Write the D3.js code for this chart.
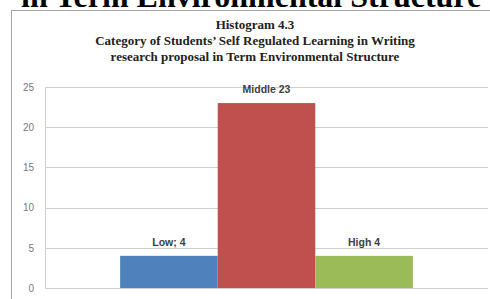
<!DOCTYPE html>
<html>
<head>
<meta charset="utf-8">
<script src="https://cdn.jsdelivr.net/npm/d3@7"></script>
<style>
    body { margin: 0; background: #fff; }
    svg { display: block; }
</style>
</head>
<body>
<div id="chart"></div>
<script>
// Chart data
const seriesNames = ['Low', 'Middle', 'High'];
const seriesValues = [4, 23, 4];
const dataLabels = ['Low; 4', 'Middle 23', 'High 4'];
const seriesColors = ['#4F81BD', '#C0504D', '#9BBB59'];
const yTicks = [0, 5, 10, 15, 20, 25];
const titleLines = [
    'Histogram 4.3',
    'Category of Students\u2019 Self Regulated Learning in Writing',
    'research proposal in Term Environmental Structure'
];
const pageHeading = 'in Term Environmental Structure';

const width = 490;
const height = 299;

const svg = d3.select('#chart')
    .append('svg')
    .attr('width', width)
    .attr('height', height);

// Page heading, cut off by the top edge
svg.append('text')
    .attr('x', 21)
    .attr('y', 7)
    .attr('font-family', 'Liberation Serif')
    .attr('font-weight', 'bold')
    .attr('font-size', 32)
    .attr('fill', '#000')
    .text(pageHeading);

// Chart frame
svg.append('rect')
    .attr('x', 11.5)
    .attr('y', 10.5)
    .attr('width', 500)
    .attr('height', 300)
    .attr('fill', '#fff')
    .attr('stroke', '#a6a6a6')
    .attr('stroke-width', 1);

// Title
svg.append('g')
    .selectAll('text')
    .data(titleLines)
    .enter()
    .append('text')
    .attr('x', 255)
    .attr('y', (d, i) => 29 + i * 16)
    .attr('text-anchor', 'middle')
    .attr('font-family', 'Liberation Serif')
    .attr('font-weight', 'bold')
    .attr('font-size', 13)
    .attr('fill', '#222')
    .text(d => d);

// Scales
const plotLeft = 45, plotRight = 488, plotTop = 87, plotBottom = 288;

const y = d3.scaleLinear()
    .domain([0, 25])
    .range([plotBottom, plotTop]);

const x = d3.scaleBand()
    .domain(seriesNames)
    .range([plotLeft, plotRight])
    .paddingInner(0)
    .paddingOuter(0.77);

// Gridlines
svg.append('g')
    .selectAll('line')
    .data(yTicks)
    .enter()
    .append('line')
    .attr('x1', plotLeft)
    .attr('x2', plotRight)
    .attr('y1', d => Math.round(y(d)) + 0.5)
    .attr('y2', d => Math.round(y(d)) + 0.5)
    .attr('stroke', '#d0d0d0')
    .attr('stroke-width', 1);

// Vertical axis line
svg.append('line')
    .attr('x1', plotLeft + 0.5)
    .attr('x2', plotLeft + 0.5)
    .attr('y1', plotTop)
    .attr('y2', plotBottom + 1)
    .attr('stroke', '#d0d0d0');

// Y axis labels
const yAxis = d3.axisLeft(y)
    .tickValues(yTicks)
    .tickSize(0)
    .tickPadding(11);

const yAxisG = svg.append('g')
    .attr('transform', 'translate(' + plotLeft + ',0)')
    .call(yAxis);
yAxisG.select('.domain').remove();
yAxisG.selectAll('text')
    .attr('font-family', 'Liberation Sans')
    .attr('font-size', 10)
    .attr('fill', '#7a7a7a');

// Bars
const bars = seriesNames.map((name, i) => ({
    name: name,
    value: seriesValues[i],
    label: dataLabels[i],
    color: seriesColors[i]
}));

svg.append('g')
    .selectAll('rect')
    .data(bars)
    .enter()
    .append('rect')
    .attr('x', d => x(d.name))
    .attr('y', d => y(d.value))
    .attr('width', x.bandwidth())
    .attr('height', d => y(0) - y(d.value))
    .attr('fill', d => d.color);

// Data labels
svg.append('g')
    .selectAll('text')
    .data(bars)
    .enter()
    .append('text')
    .attr('x', d => x(d.name) + x.bandwidth() / 2)
    .attr('y', d => y(d.value) - 10)
    .attr('text-anchor', 'middle')
    .attr('font-family', 'Liberation Sans')
    .attr('font-weight', 'bold')
    .attr('font-size', 10.5)
    .attr('fill', '#404040')
    .text(d => d.label);
</script>
</body>
</html>
